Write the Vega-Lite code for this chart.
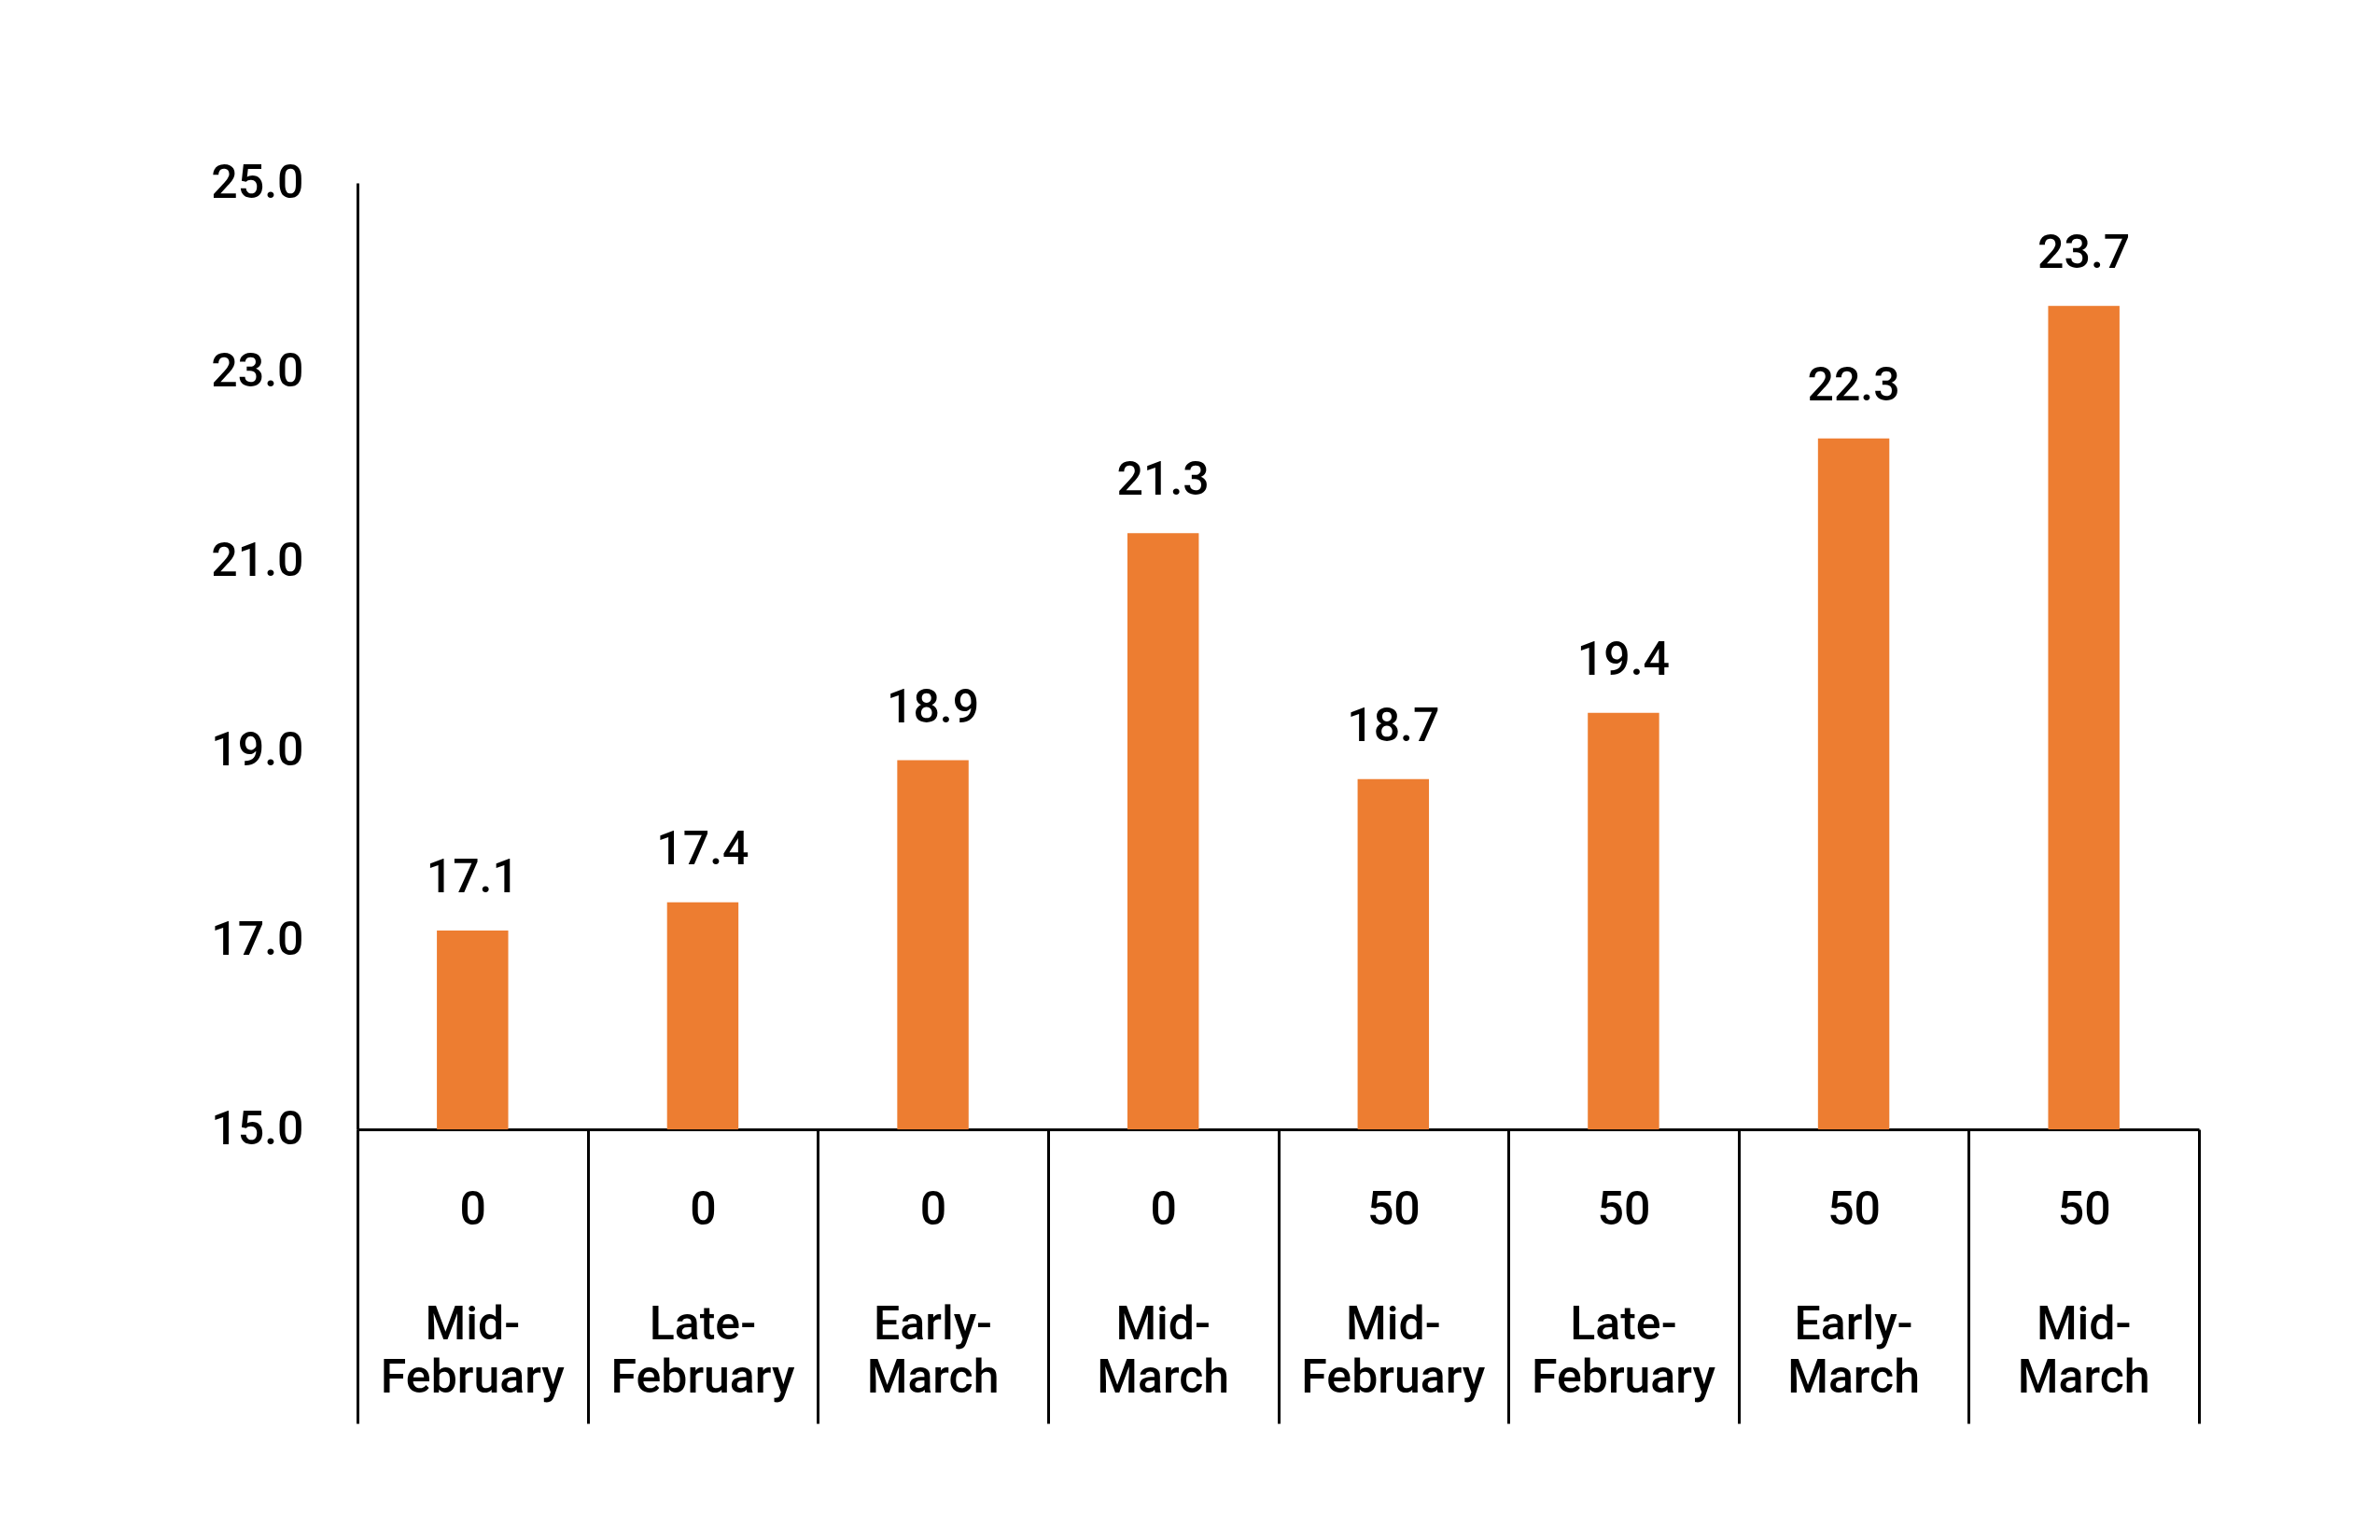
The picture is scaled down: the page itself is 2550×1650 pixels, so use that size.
{
  "$schema": "https://vega.github.io/schema/vega-lite/v6.json",
  "width": 1973,
  "height": 1014,
  "autosize": "none",
  "padding": {"left": 383, "top": 196, "right": 194, "bottom": 440},
  "background": "white",
  "config": {
    "view": {"stroke": null},
    "font": "Roboto",
    "axis": {
      "labelFont": "Roboto",
      "labelFontSize": 50,
      "labelFontWeight": 500,
      "labelColor": "black",
      "title": null
    }
  },
  "data": {
    "values": [
      {"key": "0 Mid-February", "value": 17.1},
      {"key": "0 Late-February", "value": 17.4},
      {"key": "0 Early-March", "value": 18.9},
      {"key": "0 Mid-March", "value": 21.3},
      {"key": "50 Mid-February", "value": 18.7},
      {"key": "50 Late-February", "value": 19.4},
      {"key": "50 Early-March", "value": 22.3},
      {"key": "50 Mid-March", "value": 23.7}
    ]
  },
  "encoding": {
    "y": {
      "field": "value",
      "type": "quantitative",
      "scale": {"domain": [15, 25], "zero": false, "nice": false},
      "axis": {
        "values": [15, 17, 19, 21, 23, 25],
        "format": ".1f",
        "grid": false,
        "ticks": false,
        "labelPadding": 58,
        "domainColor": "black",
        "domainWidth": 3
      }
    }
  },
  "layer": [
    {
      "mark": {"type": "bar", "color": "#ED7D31", "width": {"band": 0.31}},
      "encoding": {
        "x": {
          "field": "key",
          "type": "nominal",
          "sort": null,
          "scale": {"paddingInner": 0, "paddingOuter": 0},
          "axis": {
            "orient": "bottom",
            "labelAngle": 0,
            "labelExpr": "split(datum.label, ' ')[0]",
            "labelBaseline": "top",
            "labelPadding": -254,
            "domainColor": "black",
            "domainWidth": 3,
            "ticks": true,
            "tickBand": "extent",
            "tickSize": 315,
            "tickWidth": 3,
            "tickColor": "black"
          }
        },
        "y2": {"datum": 15}
      }
    },
    {
      "mark": {
        "type": "text",
        "font": "Roboto",
        "fontSize": 50,
        "fontWeight": 500,
        "color": "black",
        "baseline": "middle",
        "dy": -56
      },
      "encoding": {
        "x": {
          "field": "key",
          "type": "nominal",
          "sort": null,
          "axis": {
            "orient": "bottom",
            "labelAngle": 0,
            "labelExpr": "split(replace(split(datum.label, ' ')[1], '-', '-|'), '|')",
            "labelBaseline": "top",
            "labelLineHeight": 57,
            "labelLimit": 600,
            "labelPadding": 184,
            "domain": false,
            "ticks": false
          }
        },
        "text": {"field": "value", "type": "quantitative", "format": ".1f"}
      }
    }
  ],
  "resolve": {"axis": {"x": "independent"}}
}
